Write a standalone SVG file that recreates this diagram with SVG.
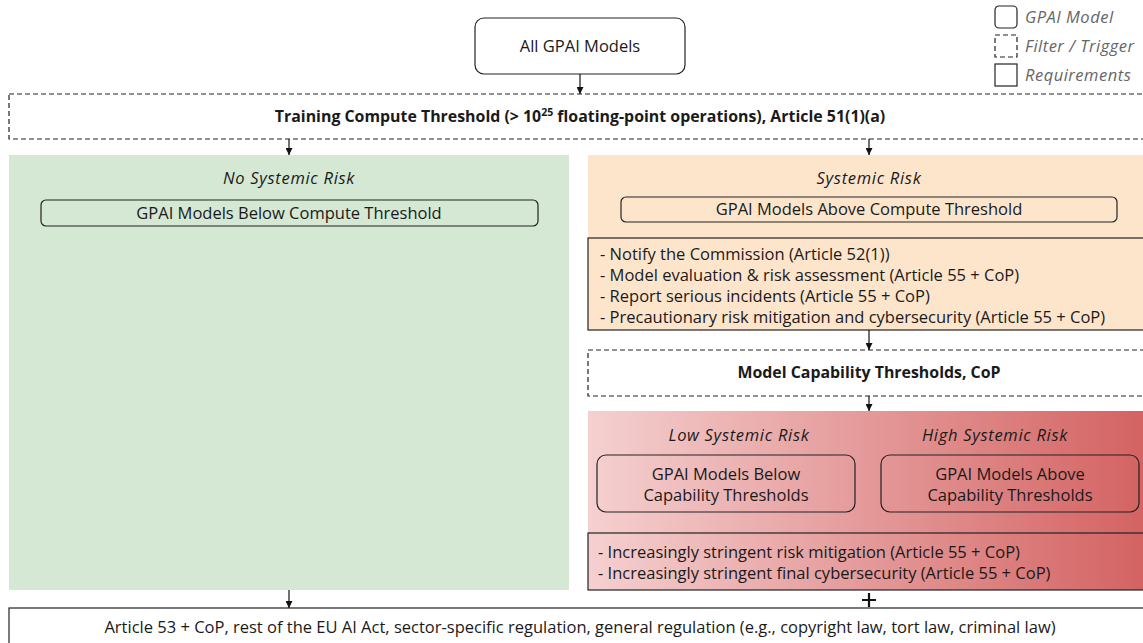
<svg xmlns="http://www.w3.org/2000/svg" width="1143" height="643" viewBox="0 0 1143 643">
<style>
text{font-family:"Open Sans","Liberation Sans",sans-serif;font-size:16.5px;fill:#1a1a1a}
.c{text-anchor:middle}
.b{font-weight:bold;font-size:15.9px}
.i{font-style:italic;letter-spacing:0.7px}
.lg{font-style:italic;fill:#666;font-size:16.5px;letter-spacing:0.5px}
.dash{fill:#fff;stroke:#222;stroke-width:1.2;stroke-dasharray:5 3}
.solid{stroke:#222;stroke-width:1.2}
.conn{stroke:#111;stroke-width:1.2;fill:none;marker-end:url(#ah)}
</style>
<defs>
<marker id="ah" viewBox="0 0 10 10" refX="10" refY="5" markerWidth="7" markerHeight="7" orient="auto" markerUnits="userSpaceOnUse"><path d="M0,0L10,5L0,10z" fill="#111"/></marker>
<linearGradient id="red" x1="0" y1="0" x2="1" y2="0"><stop offset="0" stop-color="#f5d0d0"/><stop offset="1" stop-color="#d46363"/></linearGradient>
</defs>
<g id="legend">
<rect x="995" y="6" width="22" height="22" rx="4" fill="#fff" stroke="#222" stroke-width="1.2"/>
<text class="lg" x="1025" y="23">GPAI Model</text>
<rect x="995" y="35" width="22" height="22" class="dash"/>
<text class="lg" x="1025" y="52">Filter / Trigger</text>
<rect x="995" y="64" width="22" height="22" fill="#fff" class="solid"/>
<text class="lg" x="1025" y="81">Requirements</text>
</g>
<g id="all-gpai">
<rect x="475" y="18" width="210" height="56" rx="9" fill="#fff" class="solid"/>
<text class="c" x="580" y="52">All GPAI Models</text>
</g>
<g id="compute-threshold">
<rect x="9" y="94" width="1150" height="45" class="dash"/>
<text class="c b" x="580" y="122">Training Compute Threshold (&gt; 10<tspan font-size="10.5" dy="-6">25</tspan><tspan dy="6"> floating-point operations), Article 51(1)(a)</tspan></text>
</g>
<g id="no-systemic">
<rect x="9" y="155" width="560" height="435" fill="#d5e8d4"/>
<text class="c i" x="289" y="184">No Systemic Risk</text>
<rect x="41" y="200" width="497" height="26" rx="5" fill="#d5e8d4" class="solid"/>
<text class="c" x="289" y="219">GPAI Models Below Compute Threshold</text>
</g>
<g id="systemic">
<rect x="588" y="155" width="570" height="83" fill="#fde5cc"/>
<text class="c i" x="869" y="184">Systemic Risk</text>
<rect x="621" y="197" width="496" height="25" rx="5" fill="#fde5cc" class="solid"/>
<text class="c" x="869" y="215">GPAI Models Above Compute Threshold</text>
</g>
<g id="systemic-req">
<rect x="588" y="238" width="570" height="92" fill="#fde5cc" class="solid"/>
<text x="600" y="260">- Notify the Commission (Article 52(1))</text>
<text x="600" y="281">- Model evaluation &amp; risk assessment (Article 55 + CoP)</text>
<text x="600" y="302">- Report serious incidents (Article 55 + CoP)</text>
<text x="600" y="323">- Precautionary risk mitigation and cybersecurity (Article 55 + CoP)</text>
</g>
<g id="capability-threshold">
<rect x="588" y="350" width="570" height="46" class="dash"/>
<text class="c b" x="869" y="378">Model Capability Thresholds, CoP</text>
</g>
<g id="capability-region">
<rect x="588" y="411" width="555" height="179" fill="url(#red)"/>
<text class="c i" x="739" y="441">Low Systemic Risk</text>
<text class="c i" x="995" y="441">High Systemic Risk</text>
</g>
<g id="below-capability">
<rect x="597" y="455" width="258" height="57" rx="9" fill="none" class="solid"/>
<text class="c" x="726" y="480">GPAI Models Below</text>
<text class="c" x="726" y="501">Capability Thresholds</text>
</g>
<g id="above-capability">
<rect x="881" y="455" width="258" height="57" rx="9" fill="none" class="solid"/>
<text class="c" x="1010" y="480">GPAI Models Above</text>
<text class="c" x="1010" y="501">Capability Thresholds</text>
</g>
<g id="capability-req">
<rect x="588" y="533" width="570" height="57" fill="none" class="solid"/>
<text x="598" y="558">- Increasingly stringent risk mitigation (Article 55 + CoP)</text>
<text x="598" y="579">- Increasingly stringent final cybersecurity (Article 55 + CoP)</text>
</g>
<g id="general">
<rect x="9" y="608" width="1150" height="50" fill="#fff" class="solid"/>
<text class="c" x="580" y="633">Article 53 + CoP, rest of the EU AI Act, sector-specific regulation, general regulation (e.g., copyright law, tort law, criminal law)</text>
</g>
<g id="connectors">
<line class="conn" x1="580" y1="74" x2="580" y2="94"/>
<line class="conn" x1="289" y1="139" x2="289" y2="155"/>
<line class="conn" x1="869" y1="139" x2="869" y2="155"/>
<line class="conn" x1="869" y1="330" x2="869" y2="350"/>
<line class="conn" x1="869" y1="396" x2="869" y2="411"/>
<line class="conn" x1="289" y1="590" x2="289" y2="608"/>
<path d="M869,593V607M862,600H876" stroke="#111" stroke-width="2.2" fill="none"/>
</g>
</svg>
